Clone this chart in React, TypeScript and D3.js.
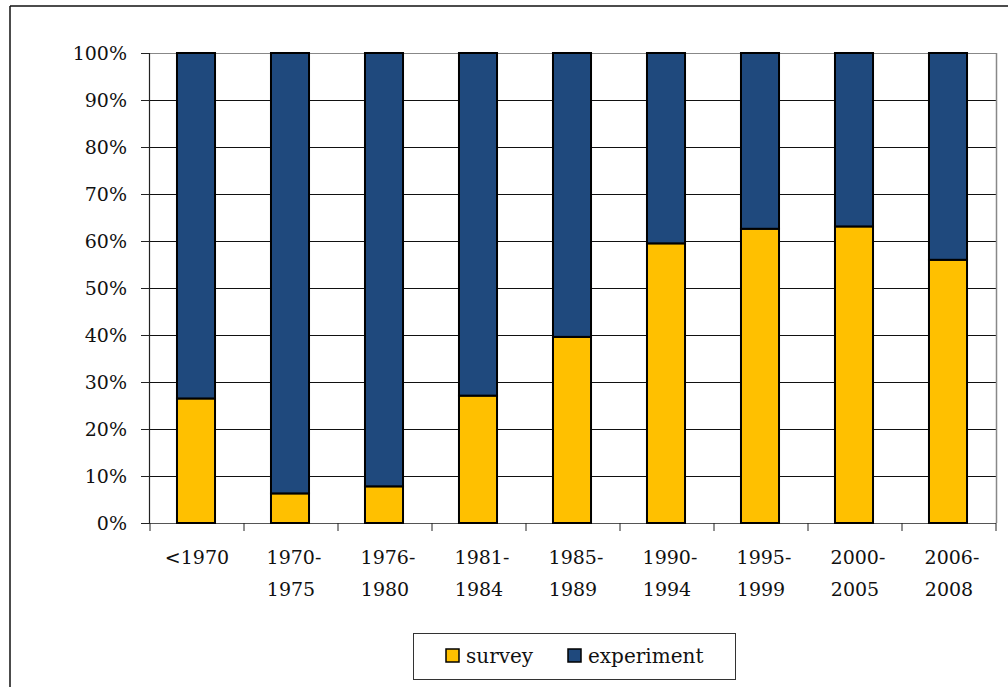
import React from "react";
import * as d3 from "d3";

const categories = ["<1970", "1970-1975", "1976-1980", "1981-1984", "1985-1989", "1990-1994", "1995-1999", "2000-2005", "2006-2008"];
const survey = [26.5, 6.3, 7.8, 27.1, 39.6, 59.5, 62.6, 63.1, 56.0];
const experiment = survey.map((v) => 100 - v);
const yTicks = [0, 10, 20, 30, 40, 50, 60, 70, 80, 90, 100];
const seriesNames = ["survey", "experiment"];
const colors = ["#FFC000", "#1F497D"];

const W = 1008, H = 687;
const L = 150, R = 996, T = 53, B = 523;
const FONT = "'DejaVu Serif', serif";

export default function App() {
  const x = d3.scaleBand<string>().domain(categories).range([L, R]).paddingInner(0.574).paddingOuter(0.287);
  const y = d3.scaleLinear().domain([0, 100]).range([B, T]);
  const step = x.step();
  const stack = d3.stack<any>().keys(seriesNames)(categories.map((c, i) => ({ cat: c, survey: survey[i], experiment: experiment[i] })));

  return (
    <svg width={W} height={H} style={{ position: "absolute", left: 0, top: 0, background: "#fff" }}>
      <rect x={0} y={0} width={W} height={H} fill="#fff" />
      {/* outer frame */}
      <line x1={10} y1={6} x2={W} y2={6} stroke="#111" strokeWidth={1.5} />
      <line x1={10} y1={6} x2={10} y2={H} stroke="#111" strokeWidth={1.5} />
      {/* gridlines */}
      {yTicks.map((t) => (
        <line key={"g" + t} x1={L} x2={R} y1={Math.round(y(t)) + 0.5} y2={Math.round(y(t)) + 0.5} stroke={t === 100 ? "#888" : "#111"} strokeWidth={1} />
      ))}
      <line x1={R + 0.5} x2={R + 0.5} y1={T} y2={B} stroke="#888" strokeWidth={1.5} />
      {/* y axis */}
      <line x1={L - 0.5} x2={L - 0.5} y1={T} y2={B + 1} stroke="#222" strokeWidth={1.2} />
      {yTicks.map((t) => (
        <g key={"yt" + t}>
          <line x1={L - 9} x2={L} y1={Math.round(y(t)) + 0.5} y2={Math.round(y(t)) + 0.5} stroke="#222" strokeWidth={1} />
          <text x={127} y={y(t)} dy="0.36em" textAnchor="end" fontFamily={FONT} fontSize={19} fill="#111">{t}%</text>
        </g>
      ))}
      {/* x axis */}
      <line x1={L} x2={R} y1={B + 0.5} y2={B + 0.5} stroke="#555" strokeWidth={1.2} />
      {d3.range(categories.length + 1).map((i) => (
        <line key={"xt" + i} x1={L + i * step} x2={L + i * step} y1={B} y2={B + 8} stroke="#222" strokeWidth={1} />
      ))}
      {/* bars */}
      {stack.map((s, si) =>
        s.map((d, i) => (
          <rect key={si + "-" + i} x={(x(categories[i]) as number)} width={x.bandwidth() - 2} y={y(d[1])} height={y(d[0]) - y(d[1])} fill={colors[si]} stroke="#000" strokeWidth={2} />
        ))
      )}
      {/* x labels */}
      {categories.map((c) => {
        const idx = c.indexOf("-", 1);
        const lines = idx > 0 ? [c.slice(0, idx + 1), c.slice(idx + 1)] : [c];
        const cx = (x(c) as number) + x.bandwidth() / 2;
        return (
          <text key={"xl" + c} textAnchor="middle" fontFamily={FONT} fontSize={19} fill="#111">
            {lines.map((ln, li) => (
              <tspan key={li} x={cx + (li === 0 && lines.length > 1 ? 3 : 0)} y={564 + li * 32}>{ln}</tspan>
            ))}
          </text>
        );
      })}
      {/* legend */}
      <rect x={413.5} y={633.5} width={322} height={46} fill="#fff" stroke="#333" strokeWidth={1} />
      {seriesNames.map((n, i) => {
        const lx = i === 0 ? 446 : 568;
        return (
          <g key={"lg" + n}>
            <rect x={lx} y={649} width={13} height={13} fill={colors[i]} stroke="#000" strokeWidth={1.5} />
            <text x={lx + 20} y={663} fontFamily={FONT} fontSize={20} fill="#111">{n}</text>
          </g>
        );
      })}
    </svg>
  );
}
